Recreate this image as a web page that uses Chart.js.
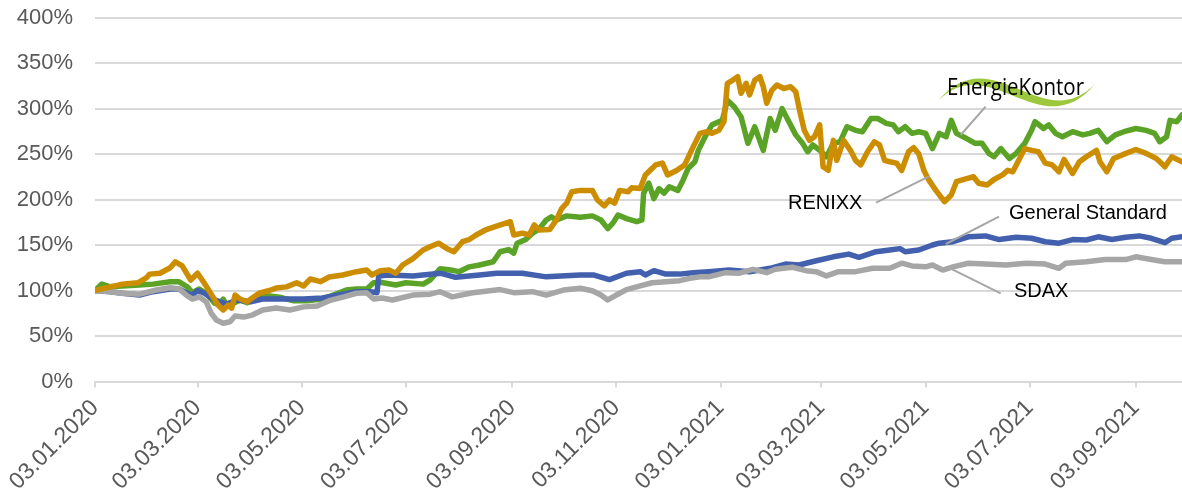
<!DOCTYPE html>
<html>
<head>
<meta charset="utf-8">
<script src="https://cdn.jsdelivr.net/npm/chart.js@4.4.1/dist/chart.umd.min.js"></script>
<style>
html,body{margin:0;padding:0;background:#ffffff;}
#wrap{width:1182px;height:495px;position:relative;}
</style>
</head>
<body>
<div id="wrap"><canvas id="c"></canvas></div>
<script>
// Days counted from 03.01.2020
const xTickDays = [0, 60, 121, 182, 244, 305, 366, 425, 486, 547, 609];
const xTickLabels = ['03.01.2020','03.03.2020','03.05.2020','03.07.2020','03.09.2020','03.11.2020',
  '03.01.2021','03.03.2021','03.05.2021','03.07.2021','03.09.2021'];
const yTickValues = [0, 50, 100, 150, 200, 250, 300, 350, 400];

// EnergieKontor
const ekDays = [0,4,9,16,26,34,44,49,54,57,61,65,70,73,75,77,81,85,89,95,102,108,116,124,133,141,147,153,159,163,167,176,182,192,196,202,208,213,219,225,233,237,242,245,247,252,256,260,264,267,270,276,284,291,296,300,303,306,311,317,320,321,324,327,330,333,336,341,344,347,351,353,358,361,367,370,374,378,382,386,391,395,398,402,406,410,414,417,420,424,428,432,436,440,445,449,454,458,463,467,470,474,478,482,486,490,494,498,501,504,510,515,519,523,526,530,535,539,544,548,550,555,558,562,566,572,578,582,587,592,597,602,609,615,620,623,627,629,633,636];
const ekValues = [100,107,104,105,106,107,109.7,109.7,104,97.6,101.6,97,86,84,90.6,84,86,89.6,86.6,91.7,94,92.6,88.8,88.8,90.6,96,100.5,101.6,101.6,108.5,109,106,108.5,107,111.5,124,122.5,120.7,126,128,131.6,142.6,145,141,152,156,163,168,177.5,181,177.5,182,180.4,182,177.5,168,174,183,179,175.6,177.5,207,218,201,212,207,214,210,221,234,241.5,254,272.7,282,287,309,302,291,261.7,280,254,289,276,300,285.5,271,261.7,252.5,260,254,247,261.7,263.5,280,276,274.5,289,289,283.7,282,274.5,280,272.7,274.5,272.7,256,272.7,269,287,272.7,267,261.7,261.7,250.7,247,256,245,250.7,261.7,276,285.5,278,282,272.7,269,274.5,271,272.7,276,263.5,271,274.5,278,276,272.7,263.5,269,287,285.5,293];

// RENIXX
const renixxDays = [0,9,16,25,30,32,38,44,47,51,56,60,64,69,72,75,78,80,82,85,89,92,96,102,106,112,118,122,126,132,137,145,153,159,162,167,172,176,180,186,192,196,201,206,210,215,219,223,229,235,243,245,250,254,257,260,266,270,273,276,279,284,291,294,298,301,304,307,312,314,319,322,328,332,335,340,345,349,351,354,358,361,365,368,370,373,376,378,381,383,386,389,391,393,396,399,403,407,410,412,415,418,421,424,426,429,432,434,438,442,445,448,452,456,459,462,465,469,472,476,479,482,485,488,492,497,501,504,510,514,517,522,526,531,534,537,541,544,548,552,556,560,564,567,572,576,580,586,588,592,596,601,609,615,621,626,630,636];
const renixxValues = [100,104,107,108.5,114,118,119,125,131.6,127,111.5,119,108,93,84,78.6,84,80.7,95,90.6,87.7,91.7,97,100,102.7,104,108.5,105,112.6,109.7,114.8,117,120.7,122.5,117,121.8,122.5,119,128,135,144.5,148,152,146,142.6,153.6,156,161,167,170.8,175.6,161,163,161,172,166.5,167,177.5,190,196,208.6,210,210,199.5,193,199.5,196,210,208.6,213,212,227,238,240,227,231.6,238,254,261.7,272.7,274.5,272.7,276,285.5,327.7,331,335,316.7,327.7,315,331,335,324,305.7,320,325.8,322,324,318.5,300,276,265,269,282,236,232,265,243,265,254,243,238,252.5,263.5,260,243,241.5,240,232,252.5,257,250,232,221,210,197.6,205,219.6,223,225,217.8,216,222,227,232,230.5,245,256,254,252.5,240,238,230.5,244,228.6,241.5,247,254,241.5,230.5,245,249,255,250.7,245,236,247,241.5];

// General Standard
const gsDays = [0,9,16,26,34,44,49,54,57,60,64,70,77,83,91,98,110,122,133,145,153,161,165,166,172,186,202,211,225,235,250,264,284,292,301,311,319,322,327,334,342,350,359,371,383,395,404,412,422,432,441,447,457,465,471,474,482,490,494,502,511,521,529,539,548,556,564,572,580,587,595,603,611,618,626,630,636];
const gsValues = [100,98.7,97,95,98.7,101.6,101.6,97,95,100,97,89.6,85,89.6,87.7,90.6,90.6,90.6,91.7,96,98.7,98.7,97.6,116,117,116,119,114.5,117,119,119,115,117,117,112,119,120.7,117,121.8,118,118,119.6,120.7,122.5,120.7,124.4,129,128,132.7,137,140,136.5,142.6,144.5,146,142.6,144.5,150,152,153.6,159,160,156,158.5,157.4,153.6,152,156,155.5,159,156,158.5,160,157.4,152.5,157.4,159];

// SDAX
const sdaxDays = [0,9,16,26,36,44,49,54,57,61,65,68,71,75,79,82,87,92,98,106,114,122,130,137,145,153,159,163,168,174,186,196,202,209,221,231,237,245,256,264,274,284,291,296,300,305,311,319,326,334,342,348,354,359,369,377,385,393,398,408,416,422,428,435,445,455,465,472,478,486,490,496,502,511,521,533,545,556,564,568,580,591,603,609,618,626,636];
const sdaxValues = [100,98.7,97,96,100.5,103,102,94,90.6,93,87.7,75,67.6,64,65.7,72,70.8,73,78.6,80.7,78.6,82,83,88.8,92.8,97,97.6,90.6,91.7,89.6,95,96,98.7,93,97.6,99.8,101,97.6,98.7,95,100.5,102.4,99.8,95,89.6,95,101,105,108.5,109.7,110.8,113.4,115,115,119.6,119,123.3,119.6,123.3,125.5,121.8,120.7,116,120.7,120.7,124.4,124.4,130,127,126,128,122.5,126,130,129,128,130,129,124.4,130,131.6,134,134,137,134,131.6,131.6];

// Callout texts with their anchor points in data space (day, percent)
const callouts = [
  {text: 'RENIXX', at: [449, 195.6], align: 'right', line: [[457, 196.5], [488.3, 225.8]]},
  {text: 'General Standard', at: [534.8, 184.1], align: 'left', line: [[528.9, 181.1], [497.8, 151.1]]},
  {text: 'SDAX', at: [537.7, 98.4], align: 'left', line: [[529.9, 96.9], [501.6, 123.3]]}
];
const logo = {text: 'EnergieKontor', at: [498.5, 322.5], line: [[521.1, 302], [506.5, 270.9]]};

const toPts = (d, v) => d.map((x, i) => ({x: x, y: v[i]}));

const calloutPlugin = {
  id: 'callouts',
  afterDatasetsDraw(chart) {
    const ctx = chart.ctx, xs = chart.scales.x, ys = chart.scales.y;
    const px = p => [xs.getPixelForValue(p[0]), ys.getPixelForValue(p[1])];
    ctx.save();
    ctx.strokeStyle = '#a6a6a6';
    ctx.lineWidth = 2;
    [...callouts, logo].forEach(c => {
      const a = px(c.line[0]), b = px(c.line[1]);
      ctx.beginPath(); ctx.moveTo(a[0], a[1]); ctx.lineTo(b[0], b[1]); ctx.stroke();
    });
    ctx.fillStyle = '#000000';
    ctx.font = '20px "Liberation Sans", Arial, sans-serif';
    ctx.textBaseline = 'middle';
    callouts.forEach(c => {
      const p = px(c.at);
      ctx.textAlign = c.align;
      ctx.fillText(c.text, p[0], p[1]);
    });
    const L = px(logo.at);
    const ox = L[0], oy = L[1];
    ctx.fillStyle = '#9dc83e';
    ctx.beginPath();
    ctx.moveTo(ox - 9, oy + 13);
    ctx.bezierCurveTo(ox + 45, oy - 52, ox + 95, oy + 50, ox + 148, oy - 4);
    ctx.bezierCurveTo(ox + 95, oy + 60, ox + 42, oy - 40, ox - 9, oy + 13);
    ctx.closePath();
    ctx.fill();
    ctx.fillStyle = '#000000';
    ctx.font = '500 24px "Open Sans", "Noto Sans", sans-serif';
    ctx.textAlign = 'left';
    ctx.textBaseline = 'middle';
    const w = ctx.measureText(logo.text).width;
    const sx = 137 / w;
    ctx.translate(ox, oy);
    ctx.scale(sx, 1);
    ctx.fillText(logo.text, 0, 0);
    ctx.restore();
  }
};

const yFont = {family: '"Liberation Sans", Arial, sans-serif', size: 22};
const xFont = {family: '"Liberation Sans", Arial, sans-serif', size: 23};

new Chart(document.getElementById('c'), {
  type: 'line',
  data: {
    datasets: [
      {label: 'RENIXX', data: toPts(renixxDays, renixxValues), borderColor: '#cc8e00', order: 0},
      {label: 'SDAX', data: toPts(sdaxDays, sdaxValues), borderColor: '#a6a6a6', order: 1},
      {label: 'General Standard', data: toPts(gsDays, gsValues), borderColor: '#4260ad', order: 2},
      {label: 'EnergieKontor', data: toPts(ekDays, ekValues), borderColor: '#5ba327', order: 3}
    ]
  },
  options: {
    responsive: true,
    maintainAspectRatio: false,
    animation: false,
    devicePixelRatio: 1,
    layout: {padding: {top: 17.5, right: 0, bottom: 0, left: 0}},
    elements: {
      line: {borderWidth: 5.5, tension: 0, borderJoinStyle: 'round', borderCapStyle: 'round', fill: false},
      point: {radius: 0, hoverRadius: 0}
    },
    plugins: {legend: {display: false}, tooltip: {enabled: false}},
    scales: {
      x: {
        type: 'linear',
        min: 0,
        max: 636,
        afterBuildTicks: s => { s.ticks = xTickDays.map(v => ({value: v})); },
        afterFit: s => { s.height = 113.5; },
        grid: {drawOnChartArea: false, drawTicks: true, tickLength: 6, color: '#d9d9d9', lineWidth: 2},
        border: {display: true, color: '#d9d9d9', width: 2},
        ticks: {
          autoSkip: false, maxRotation: 45, minRotation: 45, padding: 7,
          color: '#595959', font: xFont,
          callback: v => { const i = xTickDays.indexOf(v); return i >= 0 ? xTickLabels[i] : ''; }
        }
      },
      y: {
        type: 'linear',
        min: 0,
        max: 400,
        afterBuildTicks: s => { s.ticks = yTickValues.map(v => ({value: v})); },
        afterFit: s => { s.width = 95; s.paddingTop = 0; s.paddingBottom = 0; },
        grid: {drawTicks: false, color: '#d9d9d9', lineWidth: 2},
        border: {display: false},
        ticks: {padding: 22, color: '#595959', font: yFont, callback: v => v + '%'}
      }
    }
  },
  plugins: [calloutPlugin]
});
</script>
</body>
</html>
